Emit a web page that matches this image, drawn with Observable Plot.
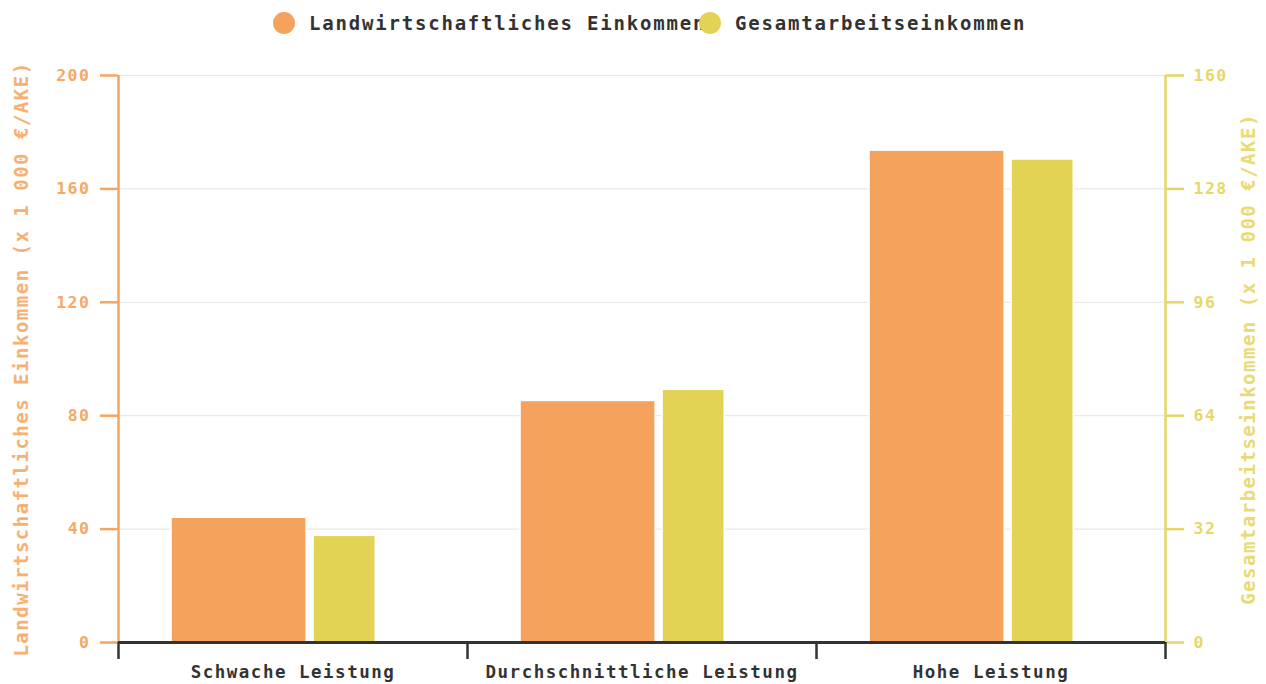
<!DOCTYPE html>
<html>
<head>
<meta charset="utf-8">
<script src="https://cdn.jsdelivr.net/npm/d3@7"></script>
<script src="https://cdn.jsdelivr.net/npm/@observablehq/plot@0.6"></script>
<style>
  body { margin: 0; background: #fff; font-family: "DejaVu Sans Mono", monospace; }
  #legend { position: relative; width: 1266px; height: 45px; }
  .item { position: absolute; top: 0; height: 45px; display: flex; align-items: center;
          font-weight: bold; font-size: 19px; letter-spacing: 1.8px; color: #333; white-space: nowrap; }
  .dot { width: 22px; height: 22px; border-radius: 50%; margin-right: 14px; flex: none; }
  svg { display: block; }
</style>
</head>
<body>
<div id="legend"></div>
<div id="chart"></div>
<script>
const categories = ["Schwache Leistung", "Durchschnittliche Leistung", "Hohe Leistung"];
const seriesNames = ["Landwirtschaftliches Einkommen", "Gesamtarbeitseinkommen"];
const landwirtschaftlich = [44, 85.2, 173.5];   // left axis (x 1 000 €/AKE)
const gesamtarbeit = [30.1, 71.3, 136.3];         // right axis (x 1 000 €/AKE)
const leftTicks = [0, 40, 80, 120, 160, 200];
const rightTicks = [0, 32, 64, 96, 128, 160];
const axisTitles = ["Landwirtschaftliches Einkommen (x 1 000 €/AKE)", "Gesamtarbeitseinkommen (x 1 000 €/AKE)"];

const colors = ["#f5a25d", "#e3d355"];
const leftAxisColor = "#f6a560", leftTextColor = "#f6a864", leftTitleColor = "#f7b072";
const rightAxisColor = "#e6d663", rightTextColor = "#e6d769", rightTitleColor = "#e9da74";

const ratio = 200 / 160; // right axis max -> left axis max

// legend
const legend = document.getElementById("legend");
const legendLeft = [273, 699];
seriesNames.forEach((name, k) => {
  const item = document.createElement("div");
  item.className = "item";
  item.style.left = legendLeft[k] + "px";
  const dot = document.createElement("span");
  dot.className = "dot";
  dot.style.background = colors[k];
  const label = document.createElement("span");
  label.textContent = name;
  item.appendChild(dot);
  item.appendChild(label);
  legend.appendChild(item);
});

const orangeData = categories.map((c, i) => ({i, category: c, v: landwirtschaftlich[i]}));
const yellowData = categories.map((c, i) => ({i, category: c, v: gesamtarbeit[i]}));

const chart = Plot.plot({
  width: 1266,
  height: 639,
  marginTop: 30,
  marginBottom: 42,
  marginLeft: 118,
  marginRight: 101,
  x: {domain: [0, categories.length], axis: null},
  y: {domain: [0, 200], axis: null},
  style: {fontFamily: '"DejaVu Sans Mono", monospace', fontWeight: "bold", letterSpacing: "1.5px", background: "white", overflow: "visible"},
  marks: [
    Plot.gridY(leftTicks, {stroke: "#e4e4e4", strokeOpacity: 1, strokeWidth: 1}),
    Plot.rectY(orangeData, {x1: d => d.i + 0.152, x2: d => d.i + 0.539, y1: 0, y2: "v", fill: colors[0], stroke: "white", strokeWidth: 1.5}),
    Plot.rectY(yellowData, {x1: d => d.i + 0.559, x2: d => d.i + 0.737, y1: 0, y2: d => d.v * ratio, fill: colors[1], stroke: "white", strokeWidth: 1.5}),
    Plot.ruleX([0], {y1: 0, y2: 200, stroke: leftAxisColor, strokeWidth: 2.5}),
    Plot.axisY(leftTicks, {anchor: "left", tickSize: 18, tickPadding: 10, stroke: leftAxisColor, fill: leftTextColor, strokeWidth: 2.5, fontSize: 16.5, label: null}),
    Plot.ruleX([categories.length], {y1: 0, y2: 200, stroke: rightAxisColor, strokeWidth: 2.5}),
    Plot.axisY(rightTicks.map(t => t * ratio), {anchor: "right", tickSize: 18, tickPadding: 10, tickFormat: t => String(Math.round(t / ratio)), stroke: rightAxisColor, fill: rightTextColor, strokeWidth: 2.5, fontSize: 16.5, label: null}),
    Plot.ruleY([0], {stroke: "#333", strokeWidth: 3}),
    Plot.axisX(d3.range(categories.length + 1), {anchor: "bottom", tickSize: 17, tickFormat: () => "", stroke: "#333", strokeWidth: 2.5, label: null}),
    Plot.axisX(categories.map((c, i) => i + 0.5), {anchor: "bottom", tickSize: 0, tickPadding: 23, tickFormat: t => categories[Math.floor(t)], fill: "#333", fontSize: 17.5, label: null}),
    Plot.text([axisTitles[0]], {frameAnchor: "left", rotate: -90, textAnchor: "middle", dx: -97, fill: leftTitleColor, fontSize: 19}),
    Plot.text([axisTitles[1]], {frameAnchor: "right", rotate: -90, textAnchor: "middle", dx: 83, fill: rightTitleColor, fontSize: 19})
  ]
});
document.getElementById("chart").appendChild(chart);
</script>
</body>
</html>
